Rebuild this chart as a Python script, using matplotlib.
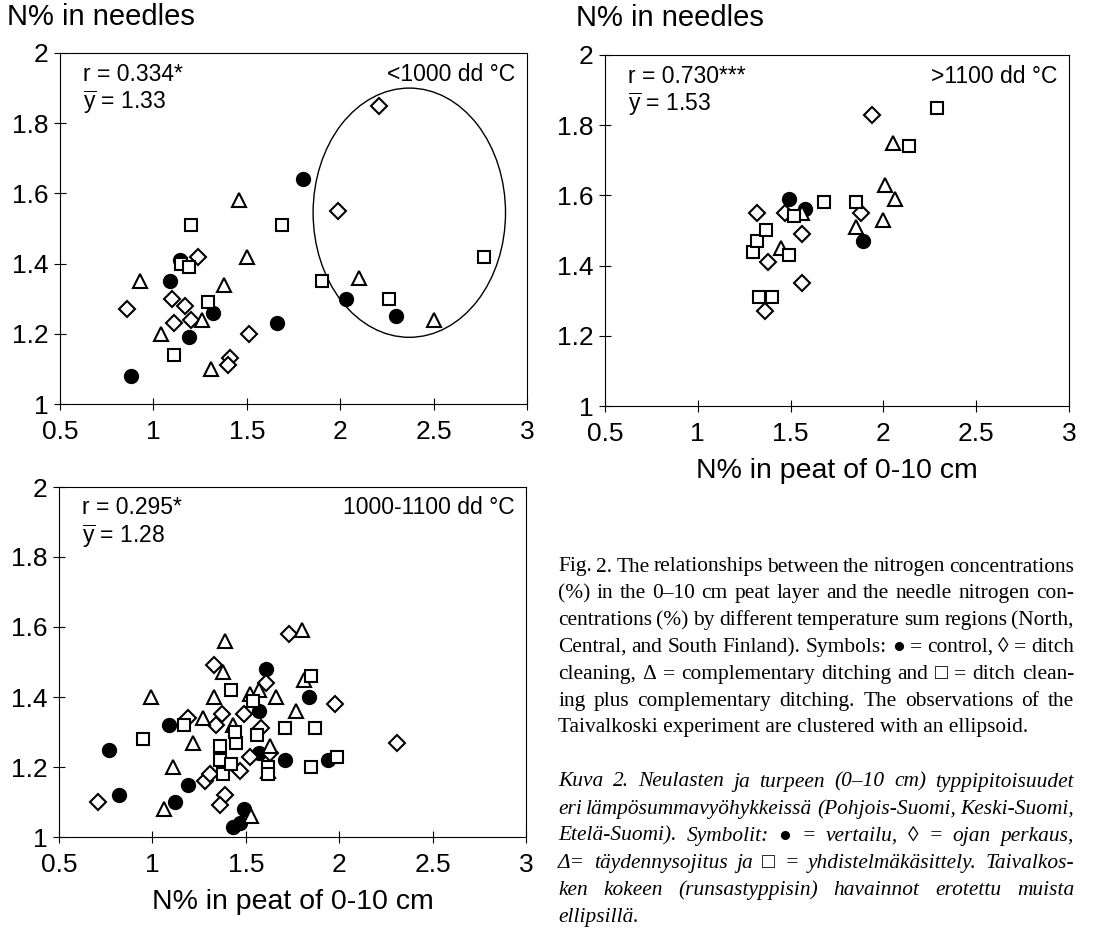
import matplotlib
matplotlib.use("Agg")
import matplotlib.pyplot as plt
from matplotlib.patches import Ellipse

plt.rcParams['font.family'] = ['Liberation Sans', 'DejaVu Sans']
plt.rcParams['mathtext.fontset'] = 'custom'
plt.rcParams['mathtext.rm'] = 'Liberation Sans'
plt.rcParams['mathtext.it'] = 'Liberation Sans'

# <1000 dd °C (North Finland)
north_ctrl_x = [0.88, 1.09, 1.14, 1.19, 1.32, 1.66, 1.80, 2.03, 2.30]
north_ctrl_y = [1.08, 1.35, 1.41, 1.19, 1.26, 1.23, 1.64, 1.30, 1.25]
north_clean_x = [2.21, 1.99, 0.86, 1.10, 1.17, 1.11, 1.20, 1.24, 1.41, 1.40, 1.51]
north_clean_y = [1.85, 1.55, 1.27, 1.30, 1.28, 1.23, 1.24, 1.42, 1.13, 1.11, 1.20]
north_compl_x = [0.93, 1.04, 1.26, 1.31, 1.38, 1.46, 1.50, 2.10, 2.50]
north_compl_y = [1.35, 1.20, 1.24, 1.10, 1.34, 1.58, 1.42, 1.36, 1.24]
north_both_x = [1.20, 1.15, 1.19, 1.29, 1.11, 1.69, 1.90, 2.26, 2.77]
north_both_y = [1.51, 1.40, 1.39, 1.29, 1.14, 1.51, 1.35, 1.30, 1.42]

# >1100 dd °C (South Finland)
south_ctrl_x = [1.49, 1.58, 1.89]
south_ctrl_y = [1.59, 1.56, 1.47]
south_clean_x = [1.32, 1.38, 1.36, 1.47, 1.56, 1.56, 1.88, 1.94]
south_clean_y = [1.55, 1.41, 1.27, 1.55, 1.49, 1.35, 1.55, 1.83]
south_compl_x = [1.45, 1.56, 1.85, 2.00, 2.01, 2.06, 2.05]
south_compl_y = [1.45, 1.55, 1.51, 1.53, 1.63, 1.59, 1.75]
south_both_x = [1.30, 1.32, 1.37, 1.33, 1.40, 1.49, 1.52, 1.68, 1.85, 2.14, 2.29]
south_both_y = [1.44, 1.47, 1.50, 1.31, 1.31, 1.43, 1.54, 1.58, 1.58, 1.74, 1.85]

# 1000-1100 dd °C (Central Finland)
central_ctrl_x = [0.77, 0.82, 1.09, 1.12, 1.19, 1.43, 1.47, 1.49, 1.57, 1.61, 1.57, 1.71, 1.84, 1.94]
central_ctrl_y = [1.25, 1.12, 1.32, 1.10, 1.15, 1.03, 1.04, 1.08, 1.36, 1.48, 1.24, 1.22, 1.40, 1.22]
central_clean_x = [0.71, 1.19, 1.28, 1.31, 1.33, 1.34, 1.37, 1.39, 1.36, 1.47, 1.49, 1.52,
                   1.58, 1.61, 1.63, 1.73, 1.98, 2.31]
central_clean_y = [1.10, 1.34, 1.16, 1.18, 1.49, 1.32, 1.35, 1.12, 1.09, 1.19, 1.35, 1.23,
                   1.31, 1.44, 1.24, 1.58, 1.38, 1.27]
central_compl_x = [0.99, 1.11, 1.06, 1.22, 1.27, 1.33, 1.39, 1.38, 1.43, 1.52, 1.57, 1.66,
                   1.63, 1.77, 1.80, 1.81, 1.53, 1.62]
central_compl_y = [1.40, 1.20, 1.08, 1.27, 1.34, 1.40, 1.56, 1.47, 1.32, 1.41, 1.42, 1.40,
                   1.26, 1.36, 1.59, 1.45, 1.06, 1.19]
central_both_x = [0.95, 1.17, 1.42, 1.36, 1.36, 1.38, 1.42, 1.45, 1.44, 1.54, 1.56, 1.62,
                  1.62, 1.71, 1.85, 1.87, 1.85, 1.99]
central_both_y = [1.28, 1.32, 1.42, 1.26, 1.22, 1.18, 1.21, 1.27, 1.30, 1.39, 1.29, 1.20,
                  1.18, 1.31, 1.46, 1.31, 1.20, 1.23]

# Taivalkoski cluster ellipse (centre, width, height in data units)
ellipse_center = (2.37, 1.545)
ellipse_size = (1.03, 0.71)

x_ticks = [0.5, 1, 1.5, 2, 2.5, 3]
x_tick_labels = ['0.5', '1', '1.5', '2', '2.5', '3']
y_ticks = [1, 1.2, 1.4, 1.6, 1.8, 2]
y_tick_labels = ['1', '1.2', '1.4', '1.6', '1.8', '2']

W, H = 1094, 930
fig = plt.figure(figsize=(W / 100, H / 100), dpi=100)


def make_axes(left, top, right, bottom):
    return fig.add_axes([left / W, 1 - bottom / H, (right - left) / W, (bottom - top) / H])


def draw_panel(ax, ctrl, clean, compl, both, r_text, ybar_text, region):
    ax.plot(ctrl[0], ctrl[1], 'o', ms=10, color='black', zorder=3)
    ax.plot(clean[0], clean[1], 'D', ms=8, mfc='white', mec='black', mew=1.5, zorder=3)
    ax.plot(compl[0], compl[1], '^', ms=10, mfc='white', mec='black', mew=1.5, zorder=3)
    ax.plot(both[0], both[1], 's', ms=9, mfc='white', mec='black', mew=1.5, zorder=3)
    ax.set_xlim(0.5, 3)
    ax.set_ylim(1, 2)
    ax.set_xticks(x_ticks, x_tick_labels)
    ax.set_yticks(y_ticks, y_tick_labels)
    ax.tick_params(direction='inout', length=9, width=0.8, labelsize=19)
    ax.tick_params(axis='x', pad=7)
    ax.tick_params(axis='y', pad=4)
    for s in ax.spines.values():
        s.set_linewidth(0.8)
    ax.text(0.05, 0.94, r_text, transform=ax.transAxes, fontsize=16.5, va='center')
    ax.text(0.05, 0.86, ybar_text, transform=ax.transAxes, fontsize=16.5, va='center')
    ax.text(0.975, 0.94, region, transform=ax.transAxes, fontsize=16.5, va='center', ha='right')


ax1 = make_axes(60, 53, 527, 404)
draw_panel(ax1, (north_ctrl_x, north_ctrl_y), (north_clean_x, north_clean_y),
           (north_compl_x, north_compl_y), (north_both_x, north_both_y),
           'r = 0.334*', r'$\overline{\mathrm{y}}$ = 1.33', '<1000 dd °C')
ax1.add_patch(Ellipse(ellipse_center, ellipse_size[0], ellipse_size[1],
                      fill=False, lw=1, ec='black', zorder=2))

ax2 = make_axes(605, 55, 1069, 406)
draw_panel(ax2, (south_ctrl_x, south_ctrl_y), (south_clean_x, south_clean_y),
           (south_compl_x, south_compl_y), (south_both_x, south_both_y),
           'r = 0.730***', r'$\overline{\mathrm{y}}$ = 1.53', '>1100 dd °C')
ax2.set_xlabel('N% in peat of 0-10 cm', fontsize=20.5, labelpad=9)

ax3 = make_axes(59, 487, 526, 837)
draw_panel(ax3, (central_ctrl_x, central_ctrl_y), (central_clean_x, central_clean_y),
           (central_compl_x, central_compl_y), (central_both_x, central_both_y),
           'r = 0.295*', r'$\overline{\mathrm{y}}$ = 1.28', '1000-1100 dd °C')
ax3.set_xlabel('N% in peat of 0-10 cm', fontsize=20.5, labelpad=9)

fig.text(7 / W, 1 - 17 / H, 'N% in needles', fontsize=21, va='center')
fig.text(576 / W, 1 - 18 / H, 'N% in needles', fontsize=21, va='center')

# caption, justified between x0 and x1
english = [
    "Fig. 2. The relationships between the nitrogen concentrations",
    "(%) in the 0–10 cm peat layer and the needle nitrogen con-",
    "centrations (%) by different temperature sum regions (North,",
    "Central, and South Finland). Symbols: ● = control, ◊ = ditch",
    "cleaning, Δ = complementary ditching and □ = ditch clean-",
    "ing plus complementary ditching. The observations of the",
    "Taivalkoski experiment are clustered with an ellipsoid.",
]
finnish = [
    "Kuva 2. Neulasten ja turpeen (0–10 cm) typpipitoisuudet",
    "eri lämpösummavyöhykkeissä (Pohjois-Suomi, Keski-Suomi,",
    "Etelä-Suomi). Symbolit: ● = vertailu, ◊ = ojan perkaus,",
    "Δ= täydennysojitus ja  □ = yhdistelmäkäsittely. Taivalkos-",
    "ken kokeen (runsastyppisin) havainnot erotettu muista",
    "ellipsillä.",
]

renderer = fig.canvas.get_renderer()
cap_x0, cap_x1 = 558, 1074
cap_size = 15.4
serif = ['Liberation Serif', 'DejaVu Serif']


def caption_line(y_px, line, style, justify):
    y = 1 - y_px / H
    if not justify:
        fig.text(cap_x0 / W, y, line, fontsize=cap_size, family=serif, style=style, va='center')
        return
    words = line.split()
    items = [fig.text(0, y, w, fontsize=cap_size, family=serif, style=style, va='center')
             for w in words]
    widths = [t.get_window_extent(renderer).width for t in items]
    gap = max((cap_x1 - cap_x0 - sum(widths)) / (len(words) - 1), 3)
    x = cap_x0
    for t, w in zip(items, widths):
        t.set_x(x / W)
        x += w + gap


for i, line in enumerate(english):
    caption_line(567 + i * 26.8, line, 'normal', i < len(english) - 1)
for i, line in enumerate(finnish):
    caption_line(782 + i * 27, line, 'italic', i < len(finnish) - 1)

fig.savefig('out.png', dpi=100)
